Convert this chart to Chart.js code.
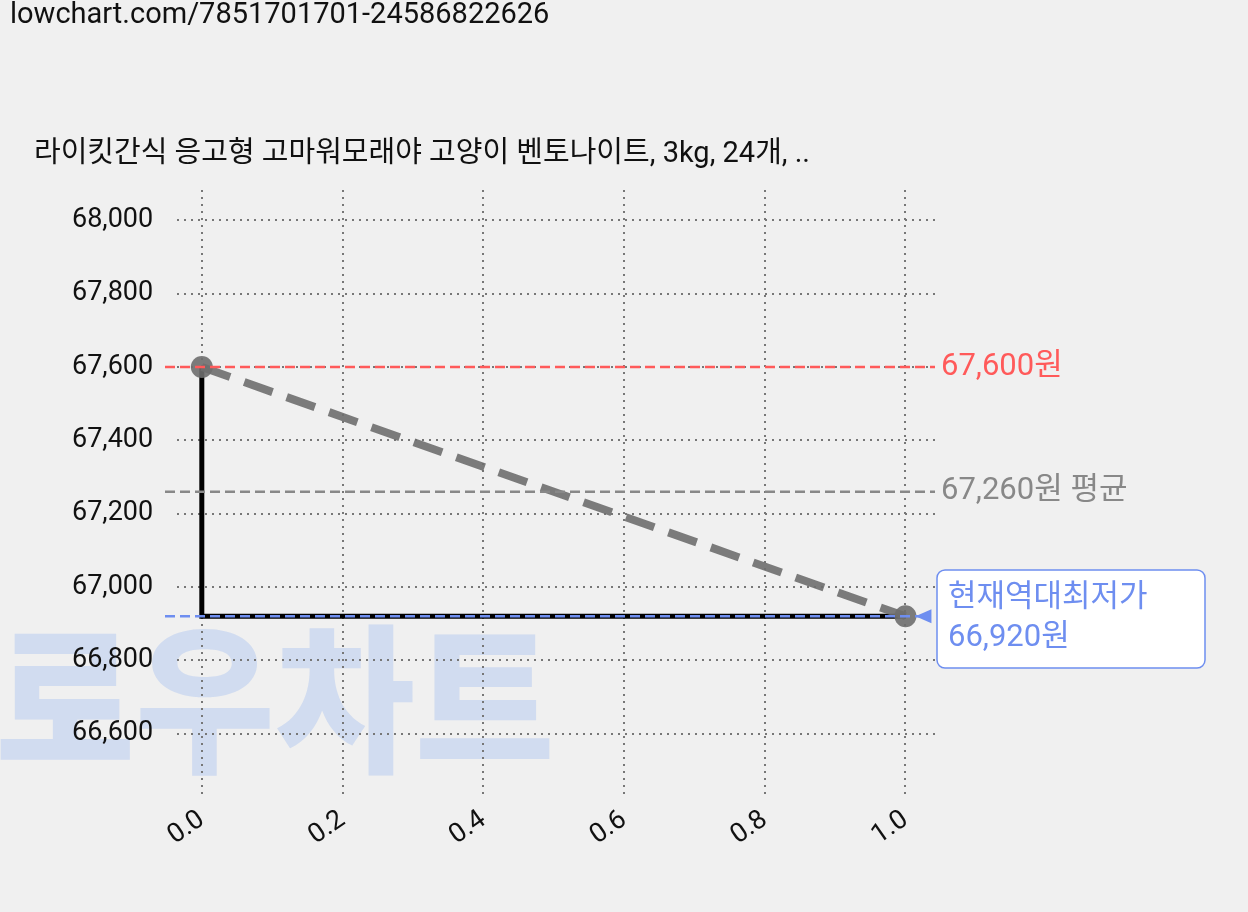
<!DOCTYPE html>
<html><head><meta charset="utf-8">
<script src="https://cdn.jsdelivr.net/npm/chart.js@4"></script>
<style>html,body{margin:0;background:#f0f0f0}</style>
</head><body>
<canvas id="c" width="1248" height="912" style="width:1248px;height:912px"></canvas>
<script>
const urlText = "lowchart.com/7851701701-24586822626";
const titleText = "라이킷간식 응고형 고마워모래야 고양이 벤토나이트, 3kg, 24개, ..";
const stepX = [0, 0, 1];
const stepY = [67600, 66920, 66920];
const trendX = [0, 1];
const trendY = [67600, 66920];
const maxPrice = 67600, avgPrice = 67260, minPrice = 66920;
const maxLabel = "67,600원", avgLabel = "67,260원 평균", minLabel1 = "현재역대최저가", minLabel2 = "66,920원";
const FONT = "Roboto, 'Noto Sans CJK KR', sans-serif";

const deco = {
  id: 'deco',
  beforeDraw(ch) {
    const c = ch.ctx;
    c.save();
    c.fillStyle = '#f0f0f0'; c.fillRect(0,0,ch.width,ch.height);
    c.fillStyle = '#111'; c.font = "29px " + FONT; c.textBaseline = 'middle';
    c.fillText(urlText, 10, 16);
    c.fillText(titleText, 34, 155);
    c.font = "900 160px 'Noto Sans CJK KR', sans-serif";
    c.fillStyle = 'rgba(170,195,240,0.45)';
    c.textBaseline = 'alphabetic';
    c.save(); c.translate(0, 0); c.scale(0.95, 1);
    c.fillText("로우차트", -5, 760);
    c.restore();
    c.restore();
  },
  afterDatasetsDraw(ch) {
    const c = ch.ctx, x = ch.scales.x, y = ch.scales.y, a = ch.chartArea;
    c.save();
    c.lineWidth = 2.5; c.setLineDash([10,5]);
    const hl = (v, col, x2) => { const py = y.getPixelForValue(v); c.strokeStyle = col; c.beginPath(); c.moveTo(165, py); c.lineTo(x2, py); c.stroke(); return py; };
    const ry = hl(maxPrice, '#ff5a5a', a.right);
    const gy = hl(avgPrice, '#888888', a.right);
    const x1 = x.getPixelForValue(1);
    const by = hl(minPrice, '#6e8ef0', x1 + 22);
    c.setLineDash([]);
    c.fillStyle = '#6e8ef0';
    c.beginPath(); c.moveTo(x1+10, by); c.lineTo(x1+26, by-7); c.lineTo(x1+26, by+7); c.closePath(); c.fill();
    c.font = "31px " + FONT; c.textBaseline = 'middle';
    c.fillStyle = '#ff5a5a'; c.fillText(maxLabel, 941, ry);
    c.fillStyle = '#888888'; c.fillText(avgLabel, 941, gy);
    c.fillStyle = '#fff'; c.strokeStyle = '#6e8ef0'; c.lineWidth = 1.5;
    c.beginPath(); c.roundRect(937, 570, 268, 98, 8); c.fill(); c.stroke();
    c.fillStyle = '#6e8ef0';
    c.fillText(minLabel1, 948, 598); c.fillText(minLabel2, 948, 638);
    c.restore();
  }
};

new Chart(document.getElementById('c'), {
  type: 'scatter',
  data: { datasets: [
    { data: trendX.map((v,i)=>({x:v,y:trendY[i]})), showLine: true, borderColor: 'rgba(110,110,110,0.9)', borderWidth: 8, borderDash: [30,15],
      pointRadius: 11, pointBackgroundColor: 'rgba(110,110,110,0.9)', pointBorderWidth: 0, order: 0 },
    { data: stepX.map((v,i)=>({x:v,y:stepY[i]})), showLine: true, borderColor: '#000', borderWidth: 5, pointRadius: 0, order: 1 }
  ]},
  options: {
    responsive: false, animation: false, devicePixelRatio: 1,
    layout: { padding: { left: 48, top: 190, right: 313, bottom: 52 } },
    plugins: { legend: { display: false }, tooltip: { enabled: false } },
    scales: {
      x: { type: 'linear', min: -0.035, max: 1.042,
        afterBuildTicks: s => { s.ticks = [0,0.2,0.4,0.6,0.8,1].map(v=>({value:v})); },
        ticks: { callback: v => v.toFixed(1), font: { size: 27, family: FONT }, color: '#111', maxRotation: 35, minRotation: 35, padding: 8 },
        border: { display: false, dash: [2,5] },
        grid: { color: '#777', lineWidth: 2, drawTicks: false } },
      y: { min: 66430, max: 68083,
        afterBuildTicks: s => { s.ticks = [66600,66800,67000,67200,67400,67600,67800,68000].map(v=>({value:v})); },
        ticks: { callback: v => v.toLocaleString('en-US'), font: { size: 27, family: FONT }, color: '#111', padding: 24 },
        border: { display: false, dash: [2,5] },
        grid: { color: '#777', lineWidth: 2, drawTicks: false } }
    }
  },
  plugins: [deco]
});
</script></body></html>
